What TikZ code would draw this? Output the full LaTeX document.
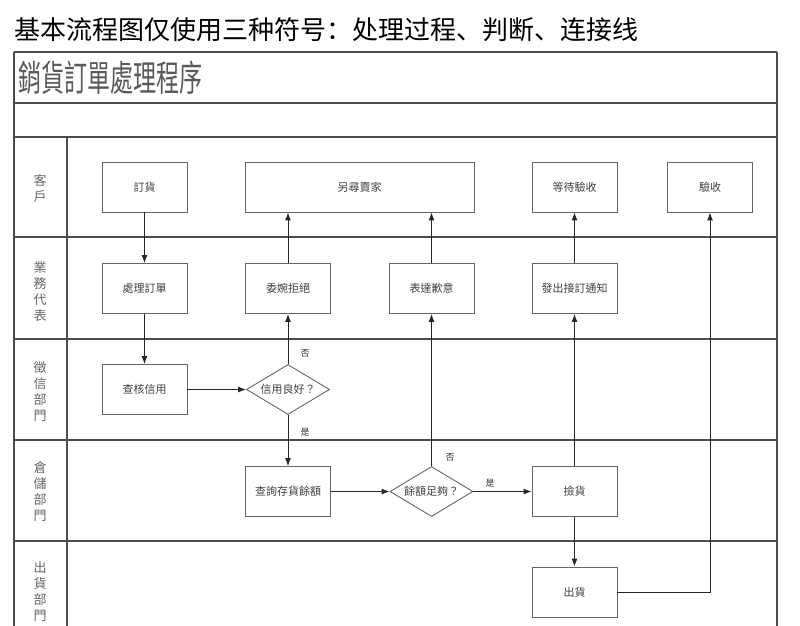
\documentclass[tikz,border=0pt]{standalone}
\usepackage{fontspec}
\usepackage{graphicx}
\setmainfont{Noto Sans CJK TC}
\newfontfamily\headfont{Noto Sans CJK SC}
\usetikzlibrary{shapes.geometric,arrows.meta}

\begin{document}
\begin{tikzpicture}[x=1pt,y=-1pt,
    proc/.style={draw=black!60,line width=0.9pt,minimum width=85pt,minimum height=50pt,
        inner sep=0pt,font=\fontsize{11}{13}\selectfont,text=black!75},
    decision/.style={diamond,aspect=1.7,draw=black!60,line width=0.9pt,minimum width=83pt,
        minimum height=50pt,inner sep=0pt,font=\fontsize{11}{13}\selectfont,text=black!75},
    lanename/.style={align=center,font=\fontsize{13}{16}\selectfont,text=black!60},
    laneline/.style={draw=black!70,line width=1.6pt},
    flow/.style={draw=black!85,line width=1pt,-{Latex[length=8pt,width=6pt]}},
    answer/.style={font=\fontsize{9}{10}\selectfont,text=black!80}]
\useasboundingbox (0,0) rectangle (800,625);

\node[anchor=west,font=\headfont\fontsize{26}{26}\selectfont] (heading) at (11,30)
    {基本流程图仅使用三种符号：处理过程、判断、连接线};
\node[anchor=west,text=black!65,inner sep=0pt] (title) at (18,78)
    {\fontsize{36}{36}\selectfont\scalebox{0.64}[1]{銷貨訂單處理程序}};

\foreach \y in {52,103,137,237,339,440,541}
    \draw[laneline] (14,\y) -- (777,\y);
\draw[laneline] (14,52) -- (14,630) (777,52) -- (777,630) (67,137) -- (67,630);

\node[lanename] (customer) at (40,189) {客\\戶};
\node[lanename] (sales) at (40,292) {業\\務\\代\\表};
\node[lanename] (creditdept) at (40,392) {徵\\信\\部\\門};
\node[lanename] (store) at (40,492) {倉\\儲\\部\\門};
\node[lanename] (shipdept) at (40,592) {出\\貨\\部\\門};

\node[proc] (order) at (144.5,187) {訂貨};
\node[proc,minimum width=229pt] (other) at (359.5,187) {另尋賣家};
\node[proc] (wait) at (574.5,187) {等待驗收};
\node[proc] (accept) at (710,187) {驗收};
\node[proc] (handle) at (144.5,288.5) {處理訂單};
\node[proc] (refuse) at (288,288.5) {委婉拒絕};
\node[proc] (sorry) at (431.5,288.5) {表達歉意};
\node[proc] (notify) at (574.5,288.5) {發出接訂通知};
\node[proc] (credit) at (144.5,389.5) {查核信用};
\node[decision] (good) at (288,389.5) {信用良好？};
\node[proc] (stock) at (288,491.5) {查詢存貨餘額};
\node[decision] (enough) at (431.5,491.5) {餘額足夠？};
\node[proc] (pick) at (574.5,491.5) {撿貨};
\node[proc] (ship) at (574.5,592) {出貨};

\draw[flow] (order) -- (handle);
\draw[flow] (handle) -- (credit);
\draw[flow] (credit) -- (good);
\draw[flow] (good) -- (refuse);
\draw[flow] (refuse.north) -- (refuse.north |- other.south);
\draw[flow] (good) -- (stock);
\draw[flow] (stock) -- (enough);
\draw[flow] (enough) -- (sorry);
\draw[flow] (sorry.north) -- (sorry.north |- other.south);
\draw[flow] (enough) -- (pick);
\draw[flow] (pick) -- (notify);
\draw[flow] (notify) -- (wait);
\draw[flow] (pick) -- (ship);
\draw[flow] (ship) -| (accept);

\node[answer] (no1) at (305,353) {否};
\node[answer] (yes1) at (305,432) {是};
\node[answer] (no2) at (450,457) {否};
\node[answer] (yes2) at (490,483) {是};
\end{tikzpicture}
\end{document}
